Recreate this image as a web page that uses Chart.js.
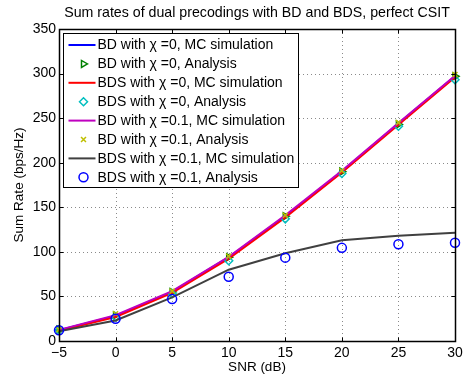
<!DOCTYPE html>
<html>
<head>
<meta charset="utf-8">
<script src="https://cdn.jsdelivr.net/npm/chart.js@4/dist/chart.umd.min.js"></script>
<style>
  html, body { margin: 0; padding: 0; background: #fff; }
  #chart { display: block; }
</style>
</head>
<body>
<canvas id="chart" width="472" height="378"></canvas>
<script>
// SNR points (dB)
const snr = [-5, 0, 5, 10, 15, 20, 25, 30];

// sum rates (bps/Hz)
const bdMc0 = [12, 28, 55, 94, 140, 190, 244, 297];
const bdAna0 = [13, 29, 55, 94, 140, 190, 243, 297];
const bdsMc0 = [11.5, 27, 54, 92.5, 138.5, 189, 242.5, 296];
const bdsAna0 = [12, 27, 53, 90, 137, 188, 241, 293];
const bdMc01 = [12.5, 29, 56, 94.5, 141, 191, 244.5, 297.5];
const bdAna01 = [12.5, 30.5, 56, 95, 141, 191, 245, 299];
const bdsMc01 = [11, 23, 49, 80, 98.5, 113, 118, 121.5];
const bdsAna01 = [12, 25, 47, 72, 93.5, 104.5, 108.5, 110.3];

const titleText = 'Sum rates of dual precodings with BD and BDS, perfect CSIT';
const legendLabels = [
    'BD with \u03C7 =0, MC simulation',
    'BD with \u03C7 =0, Analysis',
    'BDS with \u03C7 =0, MC simulation',
    'BDS with \u03C7 =0, Analysis',
    'BD with \u03C7 =0.1, MC simulation',
    'BD with \u03C7 =0.1, Analysis',
    'BDS with \u03C7 =0.1, MC simulation',
    'BDS with \u03C7 =0.1, Analysis'
];

const FONT = '"Liberation Sans", Arial, Helvetica, sans-serif';

const pts = (ys) => snr.map((x, i) => ({ x: x, y: ys[i] }));

function lineSet(idx, ys, color) {
    return {
        label: legendLabels[idx],
        data: pts(ys),
        borderColor: color,
        backgroundColor: color,
        borderWidth: 2,
        pointRadius: 0,
        showLine: true,
        clip: false,
        order: 8 - idx
    };
}

function markerSet(idx, ys, color, style, radius, rotation) {
    return {
        label: legendLabels[idx],
        data: pts(ys),
        borderColor: color,
        backgroundColor: 'rgba(0,0,0,0)',
        showLine: false,
        pointStyle: style,
        pointRadius: radius,
        pointRotation: rotation || 0,
        pointBorderWidth: 1.5,
        clip: false,
        order: 8 - idx
    };
}

const datasets = [
    lineSet(0, bdMc0, '#0000ff'),
    markerSet(1, bdAna0, '#008000', 'triangle', 4, 90),
    lineSet(2, bdsMc0, '#ff0000'),
    markerSet(3, bdsAna0, '#00bfbf', 'rectRot', 4),
    lineSet(4, bdMc01, '#bf00bf'),
    markerSet(5, bdAna01, '#bfbf00', 'crossRot', 3.5),
    lineSet(6, bdsMc01, '#404040'),
    markerSet(7, bdsAna01, '#0000ff', 'circle', 4.5)
];

// dotted grid under the data
const gridPlugin = {
    id: 'dotgrid',
    beforeDatasetsDraw(chart) {
        const ctx = chart.ctx;
        const a = chart.chartArea;
        const xs = chart.scales.x, ys = chart.scales.y;
        ctx.save();
        ctx.strokeStyle = '#8a8a8a';
        ctx.lineWidth = 1;
        ctx.setLineDash([1, 3]);
        ctx.beginPath();
        xs.ticks.forEach(t => {
            const px = Math.round(xs.getPixelForValue(t.value)) + 0.5;
            ctx.moveTo(px, a.top); ctx.lineTo(px, a.bottom);
        });
        ys.ticks.forEach(t => {
            const py = Math.round(ys.getPixelForValue(t.value)) + 0.5;
            ctx.moveTo(a.left, py); ctx.lineTo(a.right, py);
        });
        ctx.stroke();
        ctx.restore();
    }
};

// title, box, inward ticks and the in-plot legend
const framePlugin = {
    id: 'frame',
    afterDraw(chart) {
        const ctx = chart.ctx;
        const a = chart.chartArea;
        const xs = chart.scales.x, ys = chart.scales.y;
        const L = Math.round(a.left) + 0.5, R = Math.round(a.right) + 0.5;
        const T = Math.round(a.top) + 0.5, B = Math.round(a.bottom) + 0.5;
        ctx.save();
        ctx.fillStyle = '#000';
        ctx.font = '14.2px ' + FONT;
        ctx.textAlign = 'center';
        ctx.textBaseline = 'middle';
        ctx.fillText(titleText, (a.left + a.right) / 2, 13);

        ctx.strokeStyle = '#000';
        ctx.lineWidth = 1;
        ctx.beginPath();
        xs.ticks.forEach(t => {
            const px = Math.round(xs.getPixelForValue(t.value)) + 0.5;
            ctx.moveTo(px, B); ctx.lineTo(px, B - 4);
            ctx.moveTo(px, T); ctx.lineTo(px, T + 4);
        });
        ys.ticks.forEach(t => {
            const py = Math.round(ys.getPixelForValue(t.value)) + 0.5;
            ctx.moveTo(L, py); ctx.lineTo(L + 4, py);
            ctx.moveTo(R, py); ctx.lineTo(R - 4, py);
        });
        ctx.stroke();
        ctx.lineWidth = 1.5;
        ctx.strokeRect(L, T, R - L, B - T);

        // legend
        const bx = L + 4, by = T + 4, bw = 235, bh = 154;
        ctx.fillStyle = '#fff';
        ctx.fillRect(bx, by, bw, bh);
        ctx.lineWidth = 1;
        ctx.strokeRect(bx, by, bw, bh);
        ctx.font = '14px ' + FONT;
        ctx.textAlign = 'left';
        chart.data.datasets.forEach((ds, i) => {
            const cy = by + 11.5 + i * 18.9;
            ctx.strokeStyle = ds.borderColor;
            if (ds.showLine) {
                ctx.lineWidth = ds.borderWidth;
                ctx.beginPath();
                ctx.moveTo(bx + 5, cy);
                ctx.lineTo(bx + 32, cy);
                ctx.stroke();
            } else {
                ctx.fillStyle = 'rgba(0,0,0,0)';
                ctx.lineWidth = ds.pointBorderWidth;
                Chart.helpers.drawPoint(ctx, {
                    pointStyle: ds.pointStyle,
                    rotation: ds.pointRotation,
                    radius: ds.pointRadius,
                    borderWidth: ds.pointBorderWidth
                }, bx + 20, cy);
            }
            ctx.fillStyle = '#000';
            ctx.fillText(ds.label, bx + 34, cy + 0.5);
        });
        ctx.restore();
    }
};

new Chart(document.getElementById('chart'), {
    type: 'scatter',
    data: { datasets: datasets },
    options: {
        responsive: false,
        animation: false,
        layout: { padding: { right: 17, left: 0, bottom: 0, top: 29 } },
        plugins: {
            legend: { display: false },
            tooltip: { enabled: false },
            title: { display: false }
        },
        scales: {
            x: {
                type: 'linear',
                min: -5,
                max: 30,
                afterFit: (s) => { s.height = 37; },
                ticks: {
                    stepSize: 5,
                    color: '#000',
                    padding: 4,
                    font: { family: FONT, size: 14 },
                    callback: (v) => v < 0 ? '\u2212' + Math.abs(v) : String(v)
                },
                grid: { display: false, drawTicks: false },
                border: { display: false },
                title: {
                    display: true,
                    text: 'SNR (dB)',
                    color: '#000',
                    font: { family: FONT, size: 13.5 },
                    padding: { top: 0, bottom: 3 }
                }
            },
            y: {
                min: 0,
                max: 350,
                afterFit: (s) => { s.width = 59; },
                ticks: {
                    stepSize: 50,
                    color: '#000',
                    padding: 3,
                    font: { family: FONT, size: 14 }
                },
                grid: { display: false, drawTicks: false },
                border: { display: false },
                title: {
                    display: true,
                    text: 'Sum Rate (bps/Hz)',
                    color: '#000',
                    font: { family: FONT, size: 13.5 },
                    padding: { top: 11, bottom: 0 }
                }
            }
        }
    },
    plugins: [gridPlugin, framePlugin]
});
</script>
</body>
</html>
